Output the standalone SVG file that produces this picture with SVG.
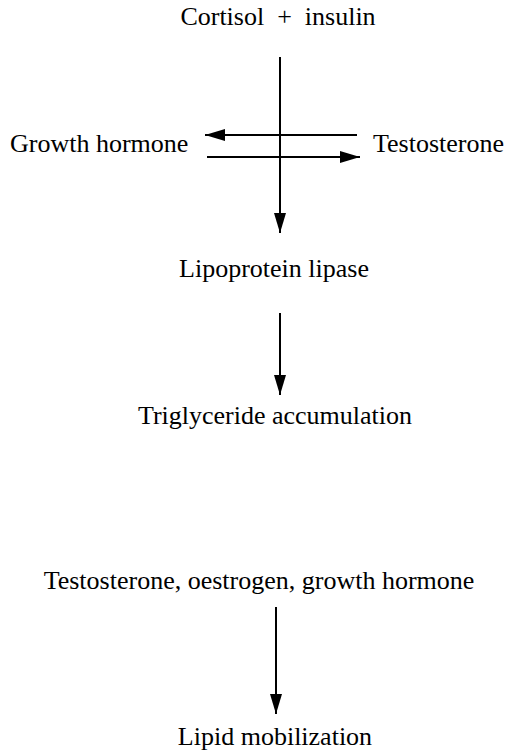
<svg xmlns="http://www.w3.org/2000/svg" width="517" height="750" viewBox="0 0 517 750">
<style>
text{font-family:"Liberation Serif","Times New Roman",serif;font-size:26px;fill:#000}
.c{text-anchor:middle}
.ln{stroke:#000;stroke-width:2;fill:none}
</style>
<defs>
<marker id="ah" viewBox="0 0 20 12" refX="20" refY="6" markerWidth="20" markerHeight="12" markerUnits="userSpaceOnUse" orient="auto">
<path d="M0,0 L20,6 L0,12 Z" fill="#000"/>
</marker>
</defs>
<rect width="517" height="750" fill="#fff"/>
<g id="cortisol"><text class="c" x="278" y="25" xml:space="preserve">Cortisol  +  insulin</text></g>
<g id="gh"><text x="10" y="152">Growth hormone</text></g>
<g id="testo"><text x="373" y="152">Testosterone</text></g>
<g id="lpl"><text class="c" x="274" y="277">Lipoprotein lipase</text></g>
<g id="tg"><text class="c" x="275" y="424">Triglyceride accumulation</text></g>
<g id="hormones"><text class="c" x="259" y="589">Testosterone, oestrogen, growth hormone</text></g>
<g id="lipid"><text class="c" x="275" y="745">Lipid mobilization</text></g>
<g id="connectors">
<line class="ln" x1="280" y1="57" x2="280" y2="233" marker-end="url(#ah)"/>
<line class="ln" x1="357" y1="135" x2="205" y2="135" marker-end="url(#ah)"/>
<line class="ln" x1="207" y1="157" x2="360" y2="157" marker-end="url(#ah)"/>
<line class="ln" x1="280" y1="313" x2="280" y2="395" marker-end="url(#ah)"/>
<line class="ln" x1="276" y1="607" x2="276" y2="714" marker-end="url(#ah)"/>
</g>
</svg>
